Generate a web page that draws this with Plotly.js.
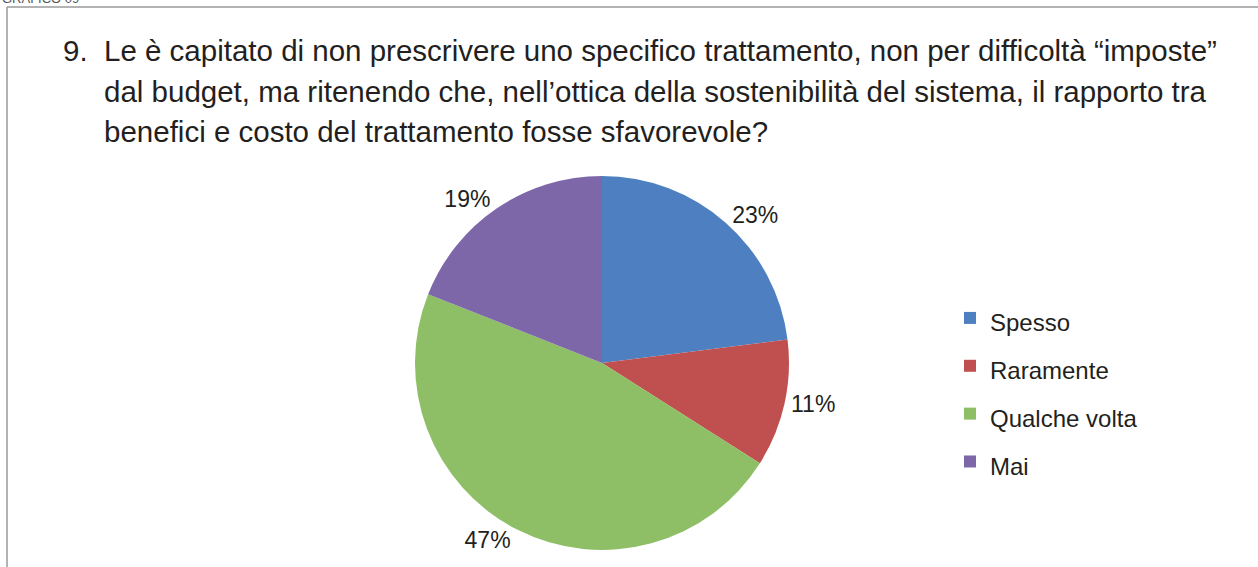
<!DOCTYPE html>
<html>
<head>
<meta charset="utf-8">
<script src="https://cdn.plot.ly/plotly-3.0.1.min.js"></script>
<style>html,body{margin:0;padding:0;background:#fff;}#chart{width:1258px;height:567px;}</style>
</head>
<body>
<div id="chart"></div>
<script>
const categories = ["Spesso", "Raramente", "Qualche volta", "Mai"];
const values = [23, 11, 47, 19];
const colors = ["#4E80C1", "#C0504F", "#8EBE65", "#7E67A9"];
const questionNumber = "9.";
const questionLines = [
  "Le è capitato di non prescrivere uno specifico trattamento, non per difficoltà “imposte”",
  "dal budget, ma ritenendo che, nell’ottica della sostenibilità del sistema, il rapporto tra",
  "benefici e costo del trattamento fosse sfavorevole?"
];
const chartTag = "GRAFICO 09";

const W = 1258, H = 567;
const cx = 602, cy = 363, R = 187;
const titleFont = {family: "Liberation Sans, Arial, sans-serif", size: 29.5, color: "#231f20"};

const trace = {
  type: "pie",
  labels: categories.map(c => "<span style='font-size:24px'>" + c + "</span>"),
  values: values,
  sort: false,
  direction: "clockwise",
  rotation: 0,
  marker: {colors: colors, line: {width: 0}},
  textinfo: "percent",
  texttemplate: "%{value}%",
  textposition: "outside",
  outsidetextfont: {family: "Liberation Sans, Arial, sans-serif", size: 23, color: "#231f20"},
  automargin: false,
  hoverinfo: "label+percent",
  domain: {x: [(cx - R) / W, (cx + R) / W], y: [(H - cy - R) / H, (H - cy + R) / H]}
};

const annotations = [
  {xref: "paper", yref: "paper", x: 61 / W, y: 1 - 32 / H, xanchor: "left", yanchor: "top",
   text: questionNumber, showarrow: false, align: "left", font: titleFont},
  {xref: "paper", yref: "paper", x: 0, y: 1 + 11 / H, xanchor: "left", yanchor: "top",
   text: chartTag, showarrow: false, align: "left",
   font: {family: "Liberation Sans, Arial, sans-serif", size: 13, color: "#555"}}
];
questionLines.forEach((line, i) => {
  annotations.push({xref: "paper", yref: "paper", x: 102 / W, y: 1 - (32 + i * 40.5) / H,
    xanchor: "left", yanchor: "top", text: line, showarrow: false, align: "left", font: titleFont});
});

const layout = {
  width: W, height: H,
  margin: {l: 0, r: 0, t: 0, b: 0},
  paper_bgcolor: "#ffffff",
  showlegend: true,
  legend: {
    x: 950 / W, y: (H - 289) / H, xanchor: "left", yanchor: "top",
    font: {family: "Liberation Sans, Arial, sans-serif", size: 34.5, color: "#231f20"},
    itemwidth: 30, bgcolor: "rgba(0,0,0,0)"
  },
  annotations: annotations,
  shapes: [
    {type: "line", xref: "paper", yref: "paper", x0: 7 / W, x1: 1, y0: 1 - 7 / H, y1: 1 - 7 / H,
     line: {color: "#9a9a9a", width: 1.5}},
    {type: "line", xref: "paper", yref: "paper", x0: 7 / W, x1: 7 / W, y0: 0, y1: 1 - 7 / H,
     line: {color: "#9a9a9a", width: 1.5}}
  ]
};

Plotly.newPlot("chart", [trace], layout, {displayModeBar: false, staticPlot: true});
</script>
</body>
</html>
